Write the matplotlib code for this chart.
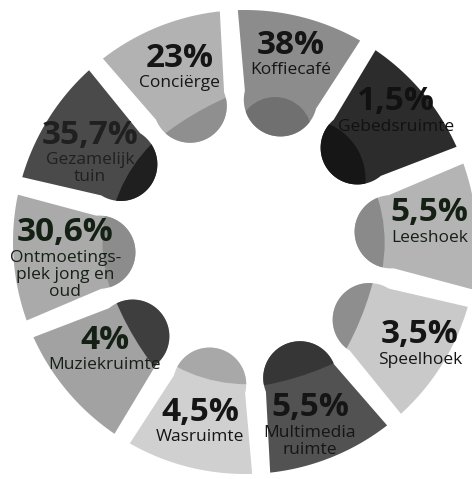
import numpy as np
import matplotlib
matplotlib.use('Agg')
import matplotlib.pyplot as plt
from matplotlib.path import Path
from matplotlib.patches import PathPatch, Circle

# Gegevens
labels = ['Koffiecafé', 'Gebedsruimte', 'Leeshoek', 'Speelhoek', 'Multimedia\nruimte',
          'Wasruimte', 'Muziekruimte', 'Ontmoetings-\nplek jong en\noud', 'Gezamelijk\ntuin', 'Conciërge']
values = [38, 1.5, 5.5, 3.5, 5.5, 4.5, 4, 30.6, 35.7, 23]

# kleuren (licht deel / donker deel bij de binnenkant)
light = ['#8c8c8c', '#2c2c2c', '#b4b4b4', '#c9c9c9', '#525252',
         '#d0d0d0', '#a2a2a2', '#aaaaaa', '#4a4a4a', '#b2b2b2']
dark = ['#707070', '#161616', '#8a8a8a', '#8e8e8e', '#363636',
        '#a8a8a8', '#3e3e3e', '#8c8c8c', '#1f1f1f', '#8f8f8f']

# schaduw-cirkel per segment: (du, dv, straal)
shade = [(-34.6, 3, 37), (-60, -9, 60), (-157, 0, 150), (-303.5, 54.9, 300),
         (-300.6, -23.6, 300), (-154.6, 0, 150), (-296.4, -50.3, 300),
         (-154.1, 0, 150), (-161.6, 0, 150), (-305.6, 45.3, 300)]

# positie van de percentages (straal, hoek)
txt_r = [202, 206, 187, 198, 178, 176, 171, 180, 188, 195]
txt_a = [13, 47, 81, 118, 158.6, 194.8, 235, 273, 304.6, 340.5]
txt_col = ['#151515', '#111111', '#152015', '#151515', '#151515',
           '#151515', '#152015', '#152015', '#202020', '#151515']

cx, cy = 245, 242
R = 232
r0 = 40
tb = 0.344
u_c = 146.6
rot = -4

W, H = 472, 479
fig = plt.figure(figsize=(W / 100, H / 100), dpi=100)
ax = fig.add_axes([0, 0, 1, 1])
ax.set_xlim(0, W)
ax.set_ylim(H, 0)
ax.axis('off')


def to_img(u, v, th):
    t = np.radians(th)
    x = cx + u * np.sin(t) + v * np.cos(t)
    y = cy - u * np.cos(t) + v * np.sin(t)
    return x, y


def segment_path(th):
    w_c = (u_c - r0) * tb
    a = 1 + tb ** 2
    b = -2 * r0 * tb ** 2
    c = r0 ** 2 * tb ** 2 - R ** 2
    u_out = (-b + np.sqrt(b * b - 4 * a * c)) / (2 * a)
    v_out = (u_out - r0) * tb
    phi = np.arctan2(v_out, u_out)
    pts = [(u_c, w_c), (u_out, v_out)]
    for ang in np.linspace(phi, -phi, 60):
        pts.append((R * np.cos(ang), R * np.sin(ang)))
    pts.append((u_c, -w_c))
    for t in np.radians(np.linspace(270, 90, 60)):
        pts.append((u_c + w_c * np.cos(t), w_c * np.sin(t)))
    xy = [to_img(u, v, th) for u, v in pts]
    return Path(np.array(xy + [xy[0]]), closed=True)


for i in range(len(labels)):
    th = 36 * i + 18 + rot
    p = segment_path(th)
    seg = PathPatch(p, facecolor=light[i], edgecolor='none')
    ax.add_patch(seg)
    du, dv, rr = shade[i]
    sx, sy = to_img(u_c + du, dv, th)
    circ = Circle((sx, sy), rr, facecolor=dark[i], edgecolor='none')
    ax.add_patch(circ)
    circ.set_clip_path(p, ax.transData)

    t = np.radians(txt_a[i])
    px = cx + txt_r[i] * np.sin(t)
    py = cy - txt_r[i] * np.cos(t)
    pct = ('%g' % values[i]).replace('.', ',') + '%'
    ax.text(px, py, pct, ha='center', va='center', fontsize=24, fontweight='bold',
            family=['Open Sans', 'DejaVu Sans'], color=txt_col[i])
    ax.text(px, py + 17, labels[i], ha='center', va='top', fontsize=12.5,
            family=['Open Sans', 'DejaVu Sans'], color=txt_col[i], linespacing=1.1)

fig.savefig('out.png', dpi=100)
